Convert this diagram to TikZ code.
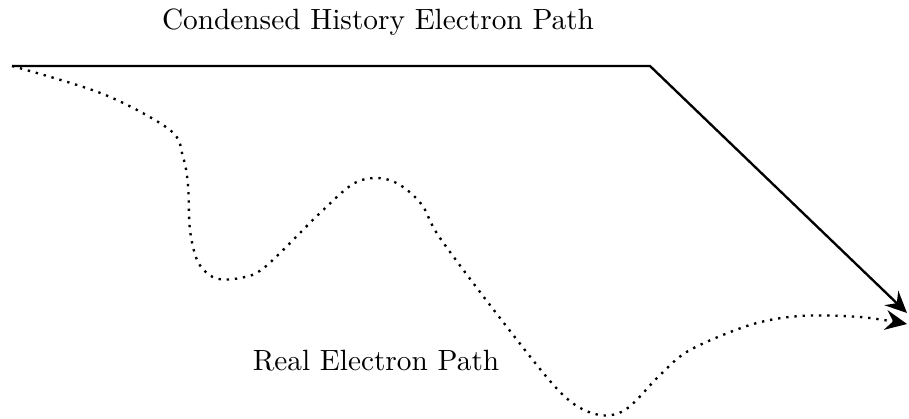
\documentclass[tikz,border=0pt]{standalone}
\usetikzlibrary{arrows.meta}

\begin{document}
\begin{tikzpicture}[
  x=0.012cm,y=-0.012cm,
  font=\normalsize,
  >={Stealth[length=2.6mm,width=2.4mm,inset=0.9mm]},
  %--- path styles ---
  chpath/.style  ={->,thick,draw=black},
  realpath/.style={->,thick,draw=black,dotted},
  lbl/.style     ={text=black,inner sep=0pt},
]
\useasboundingbox (0,0) rectangle (909,419);

%==================== key points ====================
\coordinate (start) at (12,66);
\coordinate (kink)  at (650,66);
\coordinate (chend) at (907,313);

%==================== condensed history step ====================
\draw[chpath] (start) -- (kink) -- (chend);

%==================== real (dotted) track ====================
\draw[realpath] plot[smooth,tension=0.55] coordinates {
  (12,66) (103,94) (170,130) (183,157) (188,185) (190,230)
  (198,262) (215,278) (240,278) (265,267) (320,213) (353,184)
  (378,178) (400,185) (422,205) (440,238) (500,318)
  (560,392) (595,414) (625,410) (660,375) (690,350) (750,325)
  (800,316) (860,317) (907,324)};

%==================== labels ====================
\node[lbl] (chlabel)   at (378,22)  {Condensed History Electron Path};
\node[lbl] (reallabel) at (376,361) {Real Electron Path};

\end{tikzpicture}
\end{document}
